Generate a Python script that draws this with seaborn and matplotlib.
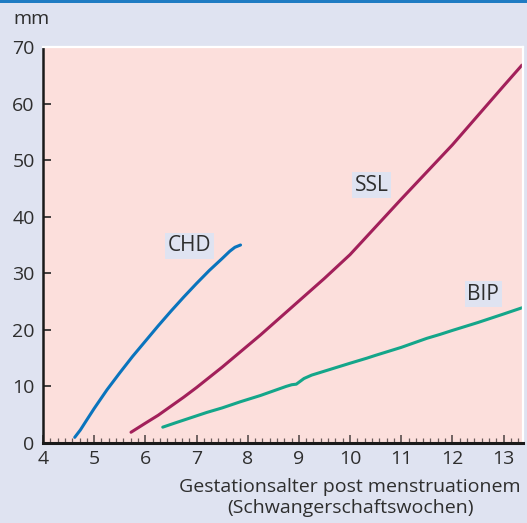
import pandas as pd
import numpy as np
import matplotlib.pyplot as plt
import seaborn as sns
from matplotlib.ticker import MultipleLocator

# Werte (Woche p.m. / mm)
chd_weeks = [4.62, 4.73, 4.85, 5.0, 5.25, 5.5, 5.75, 6.0, 6.25, 6.5, 6.75, 7.0, 7.25,
             7.5, 7.65, 7.75, 7.86]
chd_mm = [1.0, 2.3, 4.0, 6.1, 9.4, 12.4, 15.3, 18.0, 20.7, 23.3, 25.8, 28.2, 30.5,
          32.6, 33.9, 34.6, 35.0]

ssl_weeks = [5.72, 6.0, 6.25, 6.5, 6.75, 7.0, 7.25, 7.5, 7.75, 8.0, 8.25, 8.5, 8.75,
             9.0, 9.25, 9.5, 9.75, 10.0, 10.5, 11.0, 11.5, 12.0, 12.5, 13.0, 13.36]
ssl_mm = [1.9, 3.5, 4.9, 6.5, 8.1, 9.8, 11.6, 13.4, 15.3, 17.2, 19.1, 21.1, 23.1,
          25.1, 27.1, 29.1, 31.2, 33.3, 38.2, 43.1, 47.9, 52.7, 57.9, 63.1, 66.8]

bip_weeks = [6.34, 6.6, 7.0, 7.2, 7.5, 7.86, 8.25, 8.5, 8.75, 8.86, 8.95, 9.1, 9.25,
             9.5, 10.0, 10.33, 10.5, 11.0, 11.5, 11.76, 12.0, 12.5, 13.0, 13.36]
bip_mm = [2.8, 3.6, 4.8, 5.4, 6.2, 7.3, 8.4, 9.2, 10.0, 10.3, 10.4, 11.4, 12.0,
          12.7, 14.1, 15.0, 15.5, 16.9, 18.5, 19.2, 19.9, 21.3, 22.8, 23.9]

series = ['CHD', 'SSL', 'BIP']
label_pos = {'CHD': (6.86, 34.9), 'SSL': (10.42, 45.6), 'BIP': (12.6, 26.3)}
colors = {'CHD': '#0a74bd', 'SSL': '#a2205a', 'BIP': '#14a68a'}

bg = '#dfe3f1'
panel = '#fcdfdc'
textc = '#2e2e2e'

df = pd.concat([
    pd.DataFrame({'woche': chd_weeks, 'mm': chd_mm, 'serie': 'CHD'}),
    pd.DataFrame({'woche': ssl_weeks, 'mm': ssl_mm, 'serie': 'SSL'}),
    pd.DataFrame({'woche': bip_weeks, 'mm': bip_mm, 'serie': 'BIP'}),
], ignore_index=True)

sns.set_style('ticks')
plt.rcParams['font.family'] = ['Open Sans', 'DejaVu Sans']

fig = plt.figure(figsize=(5.27, 5.23), dpi=100, facecolor=bg)
ax = fig.add_axes([43 / 527, 1 - 443 / 523, 480 / 527, 396 / 523])
ax.set_facecolor(panel)

sns.lineplot(df, x='woche', y='mm', hue='serie', palette=colors, ax=ax,
             sort=False, estimator=None, linewidth=2.2, legend=False)

for s in series:
    x, y = label_pos[s]
    ax.text(x, y, s, ha='center', va='center', fontsize=15, color=textc,
            bbox=dict(boxstyle='square,pad=0.12', fc=bg, ec='none'))

ax.set_xlim(4, 13.38)
ax.set_ylim(0, 70)
ax.xaxis.set_major_locator(MultipleLocator(1))
ax.xaxis.set_minor_locator(MultipleLocator(1 / 7))
ax.yaxis.set_major_locator(MultipleLocator(10))

ax.tick_params(axis='x', which='major', direction='in', length=6, width=1.1,
               color='#4a4040', labelsize=14, labelcolor=textc, pad=5)
ax.tick_params(axis='x', which='minor', direction='in', length=3.5, width=0.9,
               color='#6a5a5a')
ax.tick_params(axis='y', which='major', direction='in', length=6, width=1.2,
               color='#222222', labelsize=14, labelcolor=textc, pad=6)

for side in ['top', 'right']:
    ax.spines[side].set_color('white')
    ax.spines[side].set_linewidth(1.6)
ax.spines['left'].set_color('#1a1a1a')
ax.spines['left'].set_linewidth(1.8)
ax.spines['bottom'].set_color('#1a1a1a')
ax.spines['bottom'].set_linewidth(2.2)

ax.set_xlabel('Gestationsalter post menstruationem\n(Schwangerschaftswochen)',
              fontsize=14, color=textc, ha='center', va='top', linespacing=1.2)
ax.xaxis.set_label_coords(0.64, -0.088)
ax.set_ylabel('')
ax.text(-0.023, 1.071, 'mm', transform=ax.transAxes, ha='center', va='center',
        fontsize=14, color=textc)

fig.add_artist(plt.Rectangle((0, 1 - 2.5 / 523), 1, 2.5 / 523,
                             transform=fig.transFigure, color='#1f7cc3', lw=0))

fig.savefig('out.png', dpi=100, facecolor=bg)
plt.close()
